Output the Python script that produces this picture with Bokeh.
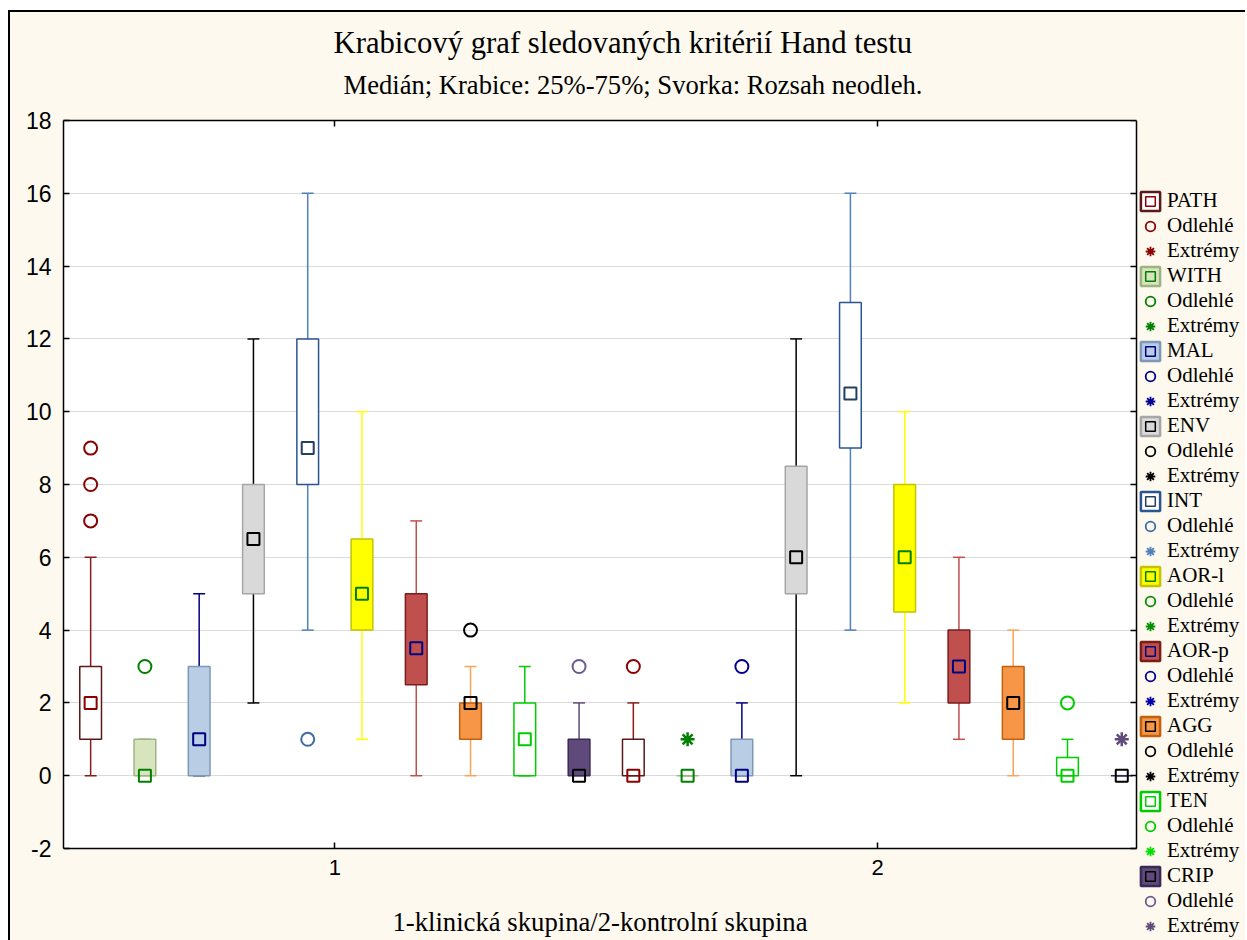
import math
from bokeh.plotting import figure
from bokeh.layouts import row
from bokeh.models import (ColumnDataSource, Range1d, LinearAxis, FixedTicker, Title,
                          Legend, LegendItem, CustomJSTickFormatter, BoxAnnotation)
from bokeh.transform import dodge
from bokeh.embed import file_html
from bokeh.resources import INLINE

# ---------------- data ----------------
series = ["PATH", "WITH", "MAL", "ENV", "INT", "AOR-l", "AOR-p", "AGG", "TEN", "CRIP"]
groups = [1, 2]
group_labels = ["1", "2"]
y_ticks = [-2, 0, 2, 4, 6, 8, 10, 12, 14, 16, 18]
y_tick_labels = ["-2", "0", "2", "4", "6", "8", "10", "12", "14", "16", "18"]

# group 1 (klinická skupina)
q1_g1 = [1, 0, 0, 5, 8, 4, 2.5, 1, 0, 0]
q3_g1 = [3, 1, 3, 8, 12, 6.5, 5, 2, 2, 1]
med_g1 = [2, 0, 1, 6.5, 9, 5, 3.5, 2, 1, 0]
lo_g1 = [0, 0, 0, 2, 4, 1, 0, 0, 0, 0]
hi_g1 = [6, 1, 5, 12, 16, 10, 7, 3, 3, 2]

# group 2 (kontrolní skupina)
q1_g2 = [0, 0, 0, 5, 9, 4.5, 2, 1, 0, 0]
q3_g2 = [1, 0, 1, 8.5, 13, 8, 4, 3, 0.5, 0]
med_g2 = [0, 0, 0, 6, 10.5, 6, 3, 2, 0, 0]
lo_g2 = [0, 0, 0, 0, 4, 2, 1, 0, 0, 0]
hi_g2 = [2, 0, 2, 12, 16, 10, 6, 4, 1, 0]

# outliers (Odlehlé) and extremes (Extrémy)
outlier_group = [1, 1, 1, 1, 1, 1, 1, 2, 2, 2]
outlier_series = ["PATH", "PATH", "PATH", "WITH", "INT", "AGG", "CRIP", "PATH", "MAL", "TEN"]
outlier_value = [7, 8, 9, 3, 1, 4, 3, 3, 3, 2]
extreme_group = [2, 2]
extreme_series = ["WITH", "CRIP"]
extreme_value = [1, 1]

# ---------------- styles ----------------
box_fill = ["#ffffff", "#d7e4bd", "#b9cde5", "#d9d9d9", "#ffffff",
            "#ffff00", "#c0504d", "#f79646", "#ffffff", "#604a7b"]
box_edge = ["#5b1a1a", "#9eb383", "#7f97b9", "#a6a6a6", "#2a5590",
            "#c4c400", "#7b1c1c", "#c06010", "#00cc00", "#3b2a55"]
whisker_color = ["#8b1a1a", "#9bbb59", "#000080", "#000000", "#4f81bd",
                 "#ffff00", "#c0504d", "#f9a35a", "#00cc00", "#604a7b"]
median_color = ["#8b0000", "#008000", "#000080", "#000000", "#243f60",
                "#008000", "#000080", "#000000", "#00cc00", "#000000"]
outlier_color = ["#8b0000", "#008000", "#000090", "#000000", "#3d6ba8",
                 "#009000", "#000090", "#000000", "#00cc00", "#6d5a8c"]
extreme_color = ["#8b0000", "#008000", "#000099", "#000000", "#4f81bd",
                 "#009000", "#0000aa", "#000000", "#00dd00", "#604a7b"]

CREAM = "#fdf9ee"
SERIF = "Liberation Serif"
SANS = "Liberation Sans"
SLOT = 0.1
BOX_W = 0.04
CAP = 0.011

# plotted region of the chart (the frame is larger so the legend is not clipped)
X0, X1 = 0.5, 2.477
Y0, Y1 = -2, 18

p = figure(width=1235, height=928, x_range=Range1d(X0, 2.678), y_range=Range1d(-4.527, Y1),
           output_backend="svg", toolbar_location=None, title=None,
           min_border_left=53, min_border_right=0, min_border_top=108, min_border_bottom=0,
           background_fill_color=CREAM, border_fill_color=CREAM,
           outline_line_color=None, x_axis_location=None)

def style_axis(ax, bounds):
    ax.bounds = bounds
    ax.axis_line_color = "black"
    ax.axis_line_width = 1.5
    ax.major_tick_in = 6
    ax.major_tick_out = 0
    ax.major_tick_line_color = "black"
    ax.major_tick_line_width = 1.5
    ax.minor_tick_line_color = None
    ax.major_label_text_color = "black"
    ax.axis_label_text_color = "black"

# plot area background
p.add_layout(BoxAnnotation(left=X0, right=X1, bottom=Y0, top=Y1, fill_color="white",
                           fill_alpha=1, line_color=None, level="image"))

ya = p.yaxis[0]
ya.ticker = FixedTicker(ticks=y_ticks)
ya.major_label_overrides = {t: lab for t, lab in zip(y_ticks, y_tick_labels)}
style_axis(ya, (Y0, Y1))
ya.major_label_text_font = SANS
ya.major_label_text_font_size = "23px"
ya.major_label_standoff = 12

xa = LinearAxis(ticker=FixedTicker(ticks=groups), fixed_location=Y0)
xa.major_label_overrides = {g: lab for g, lab in zip(groups, group_labels)}
style_axis(xa, (X0, X1))
xa.major_label_text_font = SANS
xa.major_label_text_font_size = "22px"
xa.major_label_standoff = 11
xa.axis_label = "1-klinická skupina/2-kontrolní skupina"
xa.axis_label_text_font = SERIF
xa.axis_label_text_font_size = "26.7px"
xa.axis_label_text_font_style = "normal"
xa.axis_label_standoff = 29
p.add_layout(xa, "below")

blank = CustomJSTickFormatter(code="return ''")
top_ax = LinearAxis(ticker=FixedTicker(ticks=groups), formatter=blank,
                    major_label_text_font_size="0px", major_label_standoff=0)
style_axis(top_ax, (X0, X1))
right_ax = LinearAxis(ticker=FixedTicker(ticks=y_ticks), formatter=blank, fixed_location=X1,
                      major_label_text_font_size="0px", major_label_standoff=0)
style_axis(right_ax, (Y0, Y1))
p.add_layout(top_ax, "above")
p.add_layout(right_ax, "right")

p.ygrid.ticker = FixedTicker(ticks=y_ticks)
p.ygrid.grid_line_color = "#dadada"
p.ygrid.grid_line_width = 1
p.xgrid.visible = False
# hide grid lines to the right of the plotted region (legend area)
p.add_layout(BoxAnnotation(left=X1 + 0.002, fill_color=CREAM, fill_alpha=1,
                           line_color=None, level="underlay"))

sub = Title(text="Medián; Krabice: 25%-75%; Svorka: Rozsah neodleh.", align="left",
            text_font=SERIF, text_font_size="26.6px", text_font_style="normal",
            text_color="black", standoff=41, offset=280)
main = Title(text="Krabicový graf sledovaných kritérií Hand testu", align="left",
             text_font=SERIF, text_font_size="30.7px", text_font_style="normal",
             text_color="black", standoff=-25, offset=270)
p.add_layout(sub, "above")
p.add_layout(main, "above")

nan = float("nan")
items = []
for i, name in enumerate(series):
    off = (i - 4.5) * SLOT
    src = ColumnDataSource(dict(
        grp=groups,
        q1=[q1_g1[i], q1_g2[i]], q3=[q3_g1[i], q3_g2[i]],
        med=[med_g1[i], med_g2[i]], lo=[lo_g1[i], lo_g2[i]], hi=[hi_g1[i], hi_g2[i]]))
    xc = dodge("grp", off, range=p.x_range)
    p.segment(x0=xc, y0="lo", x1=xc, y1="hi", line_color=whisker_color[i],
              line_width=1.5, source=src)
    for col in ("lo", "hi"):
        p.segment(x0=dodge("grp", off - CAP, range=p.x_range), y0=col,
                  x1=dodge("grp", off + CAP, range=p.x_range), y1=col,
                  line_color=whisker_color[i], line_width=1.5, source=src)
    p.vbar(x=xc, width=BOX_W, bottom="q1", top="q3", fill_color=box_fill[i],
           line_color=box_edge[i], line_width=1.5, source=src)
    p.scatter(x=xc, y="med", marker="square", size=12, fill_alpha=0,
              line_color=median_color[i], line_width=2, source=src)

    og = [g for g, s in zip(outlier_group, outlier_series) if s == name]
    ov = [v for v, s in zip(outlier_value, outlier_series) if s == name]
    if og:
        osrc = ColumnDataSource(dict(grp=og, val=ov))
        p.scatter(x=xc, y="val", marker="circle", size=13, fill_alpha=0,
                  line_color=outlier_color[i], line_width=2, source=osrc)
    eg = [g for g, s in zip(extreme_group, extreme_series) if s == name]
    ev = [v for v, s in zip(extreme_value, extreme_series) if s == name]
    if eg:
        esrc = ColumnDataSource(dict(grp=eg, val=ev))
        p.scatter(x=xc, y="val", marker="asterisk", size=14,
                  line_color=extreme_color[i], line_width=2.5, source=esrc)

    # legend proxies (NaN -> nothing drawn in the plot, only the legend glyphs)
    box_proxy = p.vbar(x=[nan], top=[nan], bottom=0, width=0.1, fill_color=box_fill[i],
                       line_color=box_edge[i], line_width=2.5)
    med_proxy = p.scatter(x=[nan], y=[nan], marker="square", size=10, fill_alpha=0,
                          line_color=median_color[i], line_width=1.5)
    out_proxy = p.scatter(x=[nan], y=[nan], marker="circle", size=10, fill_alpha=0,
                          line_color=outlier_color[i], line_width=1.8)
    ext_proxy = p.scatter(x=[nan], y=[nan], marker="asterisk", size=10,
                          line_color=extreme_color[i], line_width=1.8)
    items.append(LegendItem(label=name, renderers=[box_proxy, med_proxy]))
    items.append(LegendItem(label="Odlehlé", renderers=[out_proxy]))
    items.append(LegendItem(label="Extrémy", renderers=[ext_proxy]))

legend = Legend(items=items, location=(1075, 2), orientation="vertical",
                glyph_width=24, glyph_height=24, label_height=24, spacing=0,
                padding=0, margin=0, label_standoff=5,
                label_text_font=SERIF, label_text_font_size="21px",
                label_text_color="black",
                border_line_color=None, background_fill_alpha=0)
p.add_layout(legend, "center")

layout = row(p, spacing=0)
layout.margin = (10, 0, 0, 8)
layout.styles = {"border-left": "2px solid black", "border-top": "2px solid black",
                 "border-right": "none", "border-bottom": "none",
                 "background-color": CREAM}

open("out.html", "w").write(file_html(layout, INLINE))
